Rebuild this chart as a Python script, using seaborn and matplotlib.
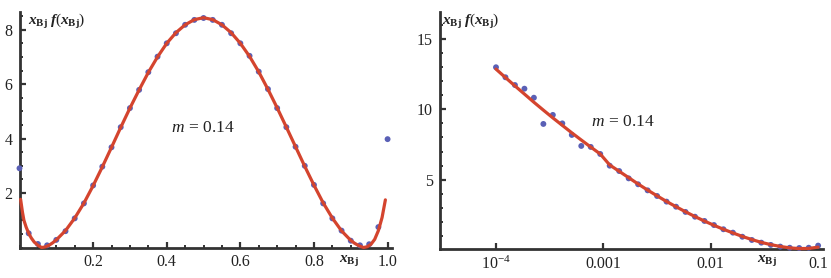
import matplotlib
matplotlib.use("Agg")
import matplotlib.pyplot as plt
import matplotlib.ticker as mticker
import seaborn as sns
import pandas as pd

# ---------------- data ----------------
x_left = [0.0, 0.025, 0.05, 0.075, 0.1, 0.125, 0.15, 0.175, 0.2, 0.225,
          0.25, 0.275, 0.3, 0.325, 0.35, 0.375, 0.4, 0.425, 0.45, 0.475,
          0.5, 0.525, 0.55, 0.575, 0.6, 0.625, 0.65, 0.675, 0.7, 0.725,
          0.75, 0.775, 0.8, 0.825, 0.85, 0.875, 0.9, 0.925, 0.95, 0.975, 1.0]
y_left = [2.91, 0.52, 0.13, 0.08, 0.28, 0.60, 1.07, 1.62, 2.28, 2.97,
          3.68, 4.42, 5.12, 5.79, 6.44, 7.01, 7.50, 7.87, 8.18, 8.36,
          8.43, 8.36, 8.18, 7.87, 7.50, 7.04, 6.46, 5.82, 5.12, 4.42,
          3.70, 3.00, 2.30, 1.62, 1.07, 0.62, 0.25, 0.08, 0.12, 0.75, 3.98]

curve_x_left = [0.003, 0.008, 0.012, 0.018, 0.025, 0.032, 0.04, 0.05, 0.06, 0.07,
                0.08, 0.09, 0.1, 0.125, 0.15, 0.175, 0.2, 0.225, 0.25, 0.275,
                0.3, 0.325, 0.35, 0.375, 0.4, 0.425, 0.45, 0.475, 0.5, 0.525,
                0.55, 0.575, 0.6, 0.625, 0.65, 0.675, 0.7, 0.725, 0.75, 0.775,
                0.8, 0.825, 0.85, 0.875, 0.9, 0.91, 0.92, 0.93, 0.935, 0.945,
                0.955, 0.965, 0.975, 0.985, 0.994]
curve_y_left = [1.77, 1.30, 1.00, 0.75, 0.52, 0.35, 0.20, 0.08, 0.00, 0.02,
                0.08, 0.17, 0.28, 0.62, 1.08, 1.63, 2.27, 2.96, 3.68, 4.41,
                5.12, 5.79, 6.43, 7.00, 7.50, 7.89, 8.18, 8.37, 8.44, 8.37,
                8.18, 7.89, 7.50, 7.02, 6.45, 5.81, 5.13, 4.42, 3.70, 2.98,
                2.29, 1.64, 1.08, 0.61, 0.26, 0.16, 0.08, 0.02, 0.00, 0.03,
                0.12, 0.30, 0.62, 1.10, 1.75]

x_right = [1.000e-4, 1.225e-4, 1.501e-4, 1.840e-4, 2.254e-4, 2.762e-4, 3.384e-4,
           4.147e-4, 5.081e-4, 6.226e-4, 7.629e-4, 9.348e-4, 1.145e-3, 1.404e-3,
           1.720e-3, 2.107e-3, 2.582e-3, 3.164e-3, 3.877e-3, 4.750e-3, 5.821e-3,
           7.132e-3, 8.739e-3, 1.071e-2, 1.312e-2, 1.608e-2, 1.970e-2, 2.414e-2,
           2.958e-2, 3.624e-2, 4.441e-2, 5.441e-2, 6.667e-2, 8.170e-2, 1.000e-1]
y_right = [12.98, 12.27, 11.72, 11.46, 10.82, 8.96, 9.60, 9.00, 8.18, 7.40,
           7.33, 6.83, 6.00, 5.62, 5.10, 4.68, 4.25, 3.85, 3.45, 3.09,
           2.72, 2.38, 2.08, 1.79, 1.49, 1.25, 0.96, 0.73, 0.54, 0.38,
           0.26, 0.18, 0.16, 0.18, 0.33]
curve_y_right = [12.85, 12.25, 11.66, 11.08, 10.50, 9.94, 9.39,
                 8.86, 8.33, 7.82, 7.32, 6.83, 6.05, 5.60, 5.15, 4.70, 4.27,
                 3.86, 3.46, 3.09, 2.73, 2.39, 2.07, 1.77, 1.49, 1.23, 0.98,
                 0.76, 0.56, 0.40, 0.27, 0.17, 0.12, 0.13, 0.22]

xticks_left = [0.2, 0.4, 0.6, 0.8, 1.0]
xticklabels_left = ["0.2", "0.4", "0.6", "0.8", "1.0"]
yticks_left = [2, 4, 6, 8]
xticks_right = [1e-4, 1e-3, 1e-2, 1e-1]
xticklabels_right = [r"$10^{-4}$", "0.001", "0.01", "0.1"]
yticks_right = [5, 10, 15]

ylabel_text = r"$\mathbfit{x}_{\mathbf{Bj}}\;\mathbfit{f}(\mathbfit{x}_{\mathbf{Bj}})$"
xlabel_text = r"$\mathbfit{x}_{\mathbf{Bj}}$"
m_text = r"$m\, =\, 0.14$"

# ---------------- style ----------------
sns.set_style("ticks")
plt.rcParams["font.family"] = ["Liberation Serif", "DejaVu Serif"]
plt.rcParams["mathtext.fontset"] = "custom"
plt.rcParams["mathtext.rm"] = "Liberation Serif"
plt.rcParams["mathtext.it"] = "Liberation Serif:italic"
plt.rcParams["mathtext.bf"] = "Liberation Serif:bold"
try:
    plt.rcParams["mathtext.bfit"] = "Liberation Serif:bold:italic"
except KeyError:
    pass

DOT = "#5a60b6"
RED = "#d4442e"
AXC = "#333333"

W, H = 831, 278
fig = plt.figure(figsize=(W / 100, H / 100), dpi=100)

def px_axes(left, top, right, bottom):
    return fig.add_axes([left / W, 1 - bottom / H, (right - left) / W, (bottom - top) / H])

ax1 = px_axes(19.5, 12, 392, 247.5)
ax2 = px_axes(440, 12, 823, 249)

df_l = pd.DataFrame({"x": x_left, "y": y_left})
df_lc = pd.DataFrame({"x": curve_x_left, "y": curve_y_left})
df_r = pd.DataFrame({"x": x_right, "y": y_right})
df_rc = pd.DataFrame({"x": x_right, "y": curve_y_right})

for ax, dfp, dfc in [(ax1, df_l, df_lc), (ax2, df_r, df_rc)]:
    sns.lineplot(data=dfc, x="x", y="y", ax=ax, color=RED, lw=2.3,
                 sort=False, estimator=None, zorder=4, clip_on=False)
    sns.scatterplot(data=dfp, x="x", y="y", ax=ax, color=DOT, s=18,
                    edgecolor="none", zorder=3, clip_on=False)

# left axes
ax1.set_xlim(0, 1.012)
ax1.set_ylim(0, 8.65)
ax1.set_xticks(xticks_left)
ax1.set_xticklabels(xticklabels_left)
ax1.set_yticks(yticks_left)
ax1.set_yticklabels([str(v) for v in yticks_left])
ax1.xaxis.set_minor_locator(mticker.MultipleLocator(0.05))
ax1.yaxis.set_minor_locator(mticker.MultipleLocator(0.5))

# right axes
ax2.set_xscale("log")
ax2.set_xlim(3.01e-5, 0.111)
ax2.set_ylim(0.09, 16.9)
ax2.set_xticks(xticks_right)
ax2.set_xticklabels(xticklabels_right)
ax2.xaxis.set_minor_locator(mticker.NullLocator())
ax2.set_yticks(yticks_right)
ax2.set_yticklabels([str(v) for v in yticks_right])
ax2.yaxis.set_minor_locator(mticker.MultipleLocator(1))

for ax in (ax1, ax2):
    ax.set_xlabel("")
    ax.set_ylabel("")
    for s in ("top", "right"):
        ax.spines[s].set_visible(False)
    for s in ("left", "bottom"):
        ax.spines[s].set_color(AXC)
        ax.spines[s].set_linewidth(2.0)
        ax.spines[s].set_zorder(2)
    ax.tick_params(which="major", direction="in", length=4, width=1.6,
                   color=AXC, labelsize=11.5, labelcolor="#222222", pad=5)
    ax.tick_params(which="minor", direction="in", length=2.5, width=1.4, color=AXC)
    ax.set_facecolor("white")

# annotations
fig.text(28 / W, 1 - 21 / H, ylabel_text, fontsize=11, va="center", ha="left", color="#222222")
fig.text(442 / W, 1 - 21 / H, ylabel_text, fontsize=11, va="center", ha="left", color="#222222")
fig.text(349 / W, 1 - 260 / H, xlabel_text, fontsize=11, va="center", ha="center", color="#222222")
fig.text(767 / W, 1 - 260 / H, xlabel_text, fontsize=11, va="center", ha="center", color="#222222")
fig.text(203 / W, 1 - 128 / H, m_text, fontsize=12.5, va="center", ha="center", color="#222222")
fig.text(623 / W, 1 - 122 / H, m_text, fontsize=12.5, va="center", ha="center", color="#222222")

fig.savefig("out.png", dpi=100, facecolor="white")
